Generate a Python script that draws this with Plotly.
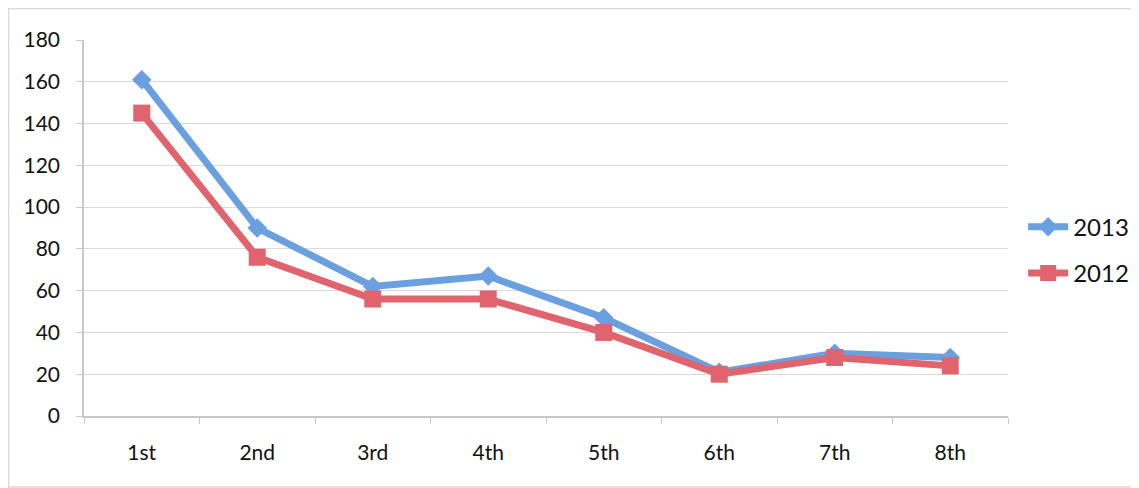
import plotly.graph_objects as go

categories = ["1st", "2nd", "3rd", "4th", "5th", "6th", "7th", "8th"]
values_2013 = [161, 90, 62, 67, 47, 21, 30, 28]
values_2012 = [145, 76, 56, 56, 40, 20, 28, 24]
y_ticks = [0, 20, 40, 60, 80, 100, 120, 140, 160, 180]

# page body has an 8px margin, so the figure is 8px smaller than the window
W, H = 1131, 480
ml, mr, mt, mb = 76, 131, 32, 72
pw, ph = W - ml - mr, H - mt - mb

fig = go.Figure()
fig.add_trace(go.Scatter(
    x=categories, y=values_2013, name="2013", mode="lines+markers",
    legendgroup="a",
    line=dict(color="#6a9fe0", width=7),
    marker=dict(symbol="diamond", size=15, color="#6a9fe0"),
))
fig.add_trace(go.Scatter(
    x=categories, y=values_2012, name="2012", mode="lines+markers",
    legendgroup="b",
    line=dict(color="#e0646e", width=7),
    marker=dict(symbol="square", size=17, color="#e0646e"),
))

fig.update_layout(
    width=W, height=H,
    margin=dict(l=ml, r=mr, t=mt, b=mb, autoexpand=False),
    paper_bgcolor="white", plot_bgcolor="white",
    font=dict(family="Lato, 'Open Sans', sans-serif", size=21, color="#111111"),
    showlegend=True,
    legend=dict(x=1.0164, y=0.441, xanchor="left", yanchor="middle",
                font=dict(size=24), itemwidth=40, tracegroupgap=12,
                traceorder="grouped", bgcolor="rgba(0,0,0,0)"),
    xaxis=dict(
        type="category", showgrid=False, showline=True, linecolor="#c8c8c8",
        linewidth=1.5, ticks="outside", tickson="boundaries", ticklen=6,
        tickcolor="#c8c8c8", range=[-0.5, 7.5], ticklabelstandoff=17,
        automargin=False,
    ),
    yaxis=dict(
        range=[0, 180], tickvals=y_ticks, showgrid=True, gridcolor="#d9d9d9",
        gridwidth=1.2, showline=True, linecolor="#c8c8c8", linewidth=1.5,
        ticks="outside", ticklen=6, tickcolor="#c8c8c8", zeroline=False,
        ticklabelstandoff=12, automargin=False,
    ),
    shapes=[dict(
        type="rect", xref="paper", yref="paper",
        x0=-ml / pw + 0.0005, x1=1 + (mr - 1) / pw,
        y0=-(mb - 1) / ph, y1=1 + (mt - 0.5) / ph,
        line=dict(color="#d8d8d8", width=1.5), layer="below",
    )],
)

fig.write_html("out.html")
